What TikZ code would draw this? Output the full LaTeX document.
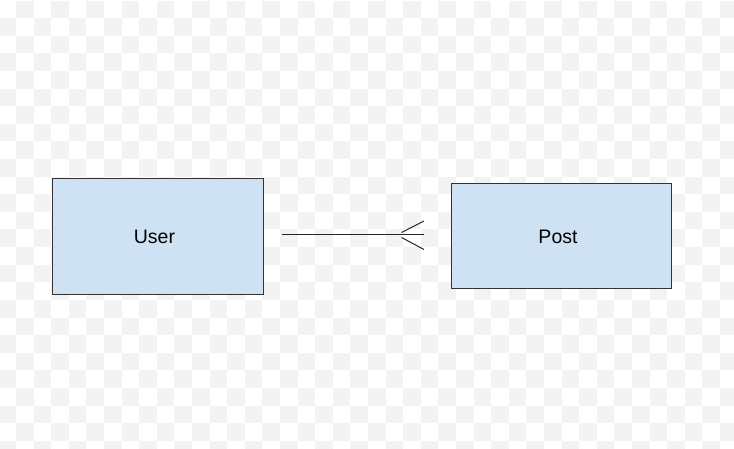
\documentclass[tikz,border=0pt]{standalone}
\usepackage{fontspec}
\setmainfont{Liberation Sans}
\usetikzlibrary{calc}
\definecolor{entityfill}{HTML}{CFE2F3}
\definecolor{entityline}{HTML}{333333}
\definecolor{checker}{HTML}{F3F3F3}
\tikzset{
  entity/.style={draw=entityline, line width=1pt, fill=entityfill,
    inner sep=0pt, font=\fontsize{19.5}{23}\selectfont,
    execute at begin node={\hspace*{-6pt}}},
  relation/.style={draw=black!85, line width=1pt},
}
\begin{document}
\begin{tikzpicture}[x=1pt, y=-1pt]
  \useasboundingbox (0,0) rectangle (734,449);
  % light checkered backdrop
  \begin{scope}
    \clip (0,0) rectangle (734,449);
    \fill[white] (0,0) rectangle (734,449);
    \foreach \c in {0,...,42}{
      \foreach \r in {0,...,26}{
        \pgfmathtruncatemacro\cellparity{mod(\c+\r,2)}
        \ifnum\cellparity=1
          \fill[checker] (-1.6+\c*17.6, 0.7+\r*17.6) rectangle ++(17.6,17.6);
        \fi
      }
    }
  \end{scope}

  % entities
  \node[entity, minimum width=211pt, minimum height=116pt] (user) at (157.5,237) {User};
  \node[entity, minimum width=220pt, minimum height=105pt] (post) at (561,236.5) {Post};

  % one-to-many relation with a crow's foot at the Post end
  \coordinate (relstart) at ($(user.east)+(18,-2.5)$);
  \coordinate (relend)   at ($(post.west)+(-26.5,-2)$);
  \coordinate (footroot) at ($(relend)+(-22.5,0)$);
  \draw[relation] (relstart) -- (relend);
  \draw[relation] ($(footroot)+(0,-2)$) -- ($(relend)+(0,-13.5)$);
  \draw[relation] ($(footroot)+(0,3)$) -- ($(relend)+(0,15)$);
\end{tikzpicture}
\end{document}
